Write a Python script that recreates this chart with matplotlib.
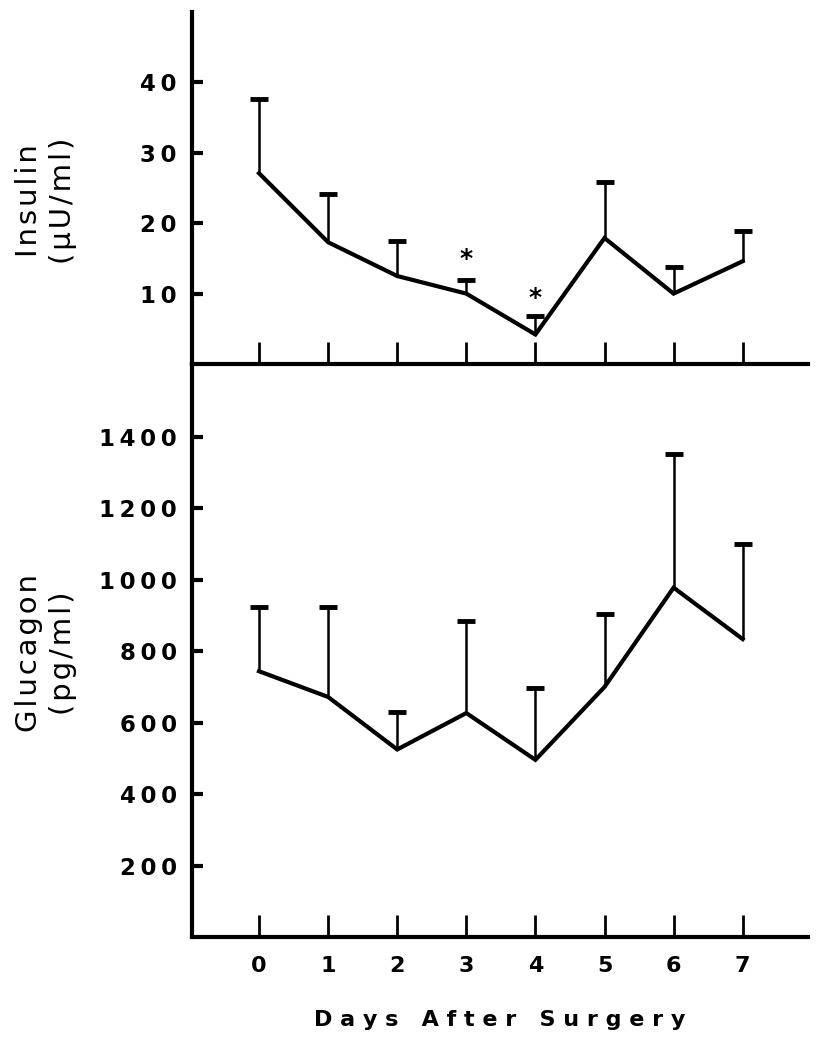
import matplotlib.pyplot as plt
from matplotlib.ticker import FuncFormatter
import numpy as np

days = [0, 1, 2, 3, 4, 5, 6, 7]
insulin_mean = [27.1, 17.3, 12.5, 10.0, 4.2, 17.9, 10.0, 14.6]
insulin_upper = [37.7, 24.1, 17.5, 12.0, 6.8, 25.8, 13.8, 18.9]
insulin_star_days = [3, 4]
insulin_star_y = [14.9, 9.4]
glucagon_mean = [744, 672, 525, 627, 496, 700, 978, 834]
glucagon_upper = [925, 925, 630, 884, 697, 904, 1353, 1101]

insulin_ticks = [10, 20, 30, 40]
glucagon_ticks = [200, 400, 600, 800, 1000, 1200, 1400]

plt.rcParams['font.family'] = 'DejaVu Sans'

HS = '\u200a'  # hair space
TS = '\u2009'  # thin space


def spread(s, sep=HS):
    return sep.join(s)


fig = plt.figure(figsize=(8.24, 10.5), dpi=100)
ax1 = fig.add_axes([0.233, 0.6533, 0.748, 0.3353])
ax2 = fig.add_axes([0.233, 0.1076, 0.748, 0.5457])

# the original digits are set wide, so put thin spaces between them
spaced = FuncFormatter(lambda v, p: spread('%d' % v, TS))


def draw(ax, mean, upper):
    ax.plot(days, mean, color='black', lw=3, solid_joinstyle='miter', zorder=3)
    ax.vlines(days, mean, upper, color='black', lw=1.8, zorder=2)
    ax.plot(days, upper, ls='none', marker='_', ms=13, mew=3.5, color='black')
    ax.set_xlim(-0.97, 7.95)
    for s in ['top', 'right']:
        ax.spines[s].set_visible(False)
    for s in ['left', 'bottom']:
        ax.spines[s].set_linewidth(3)
    ax.set_xticks(days)
    ax.tick_params(axis='x', direction='in', length=16, width=2, pad=14,
                   labelsize=16)
    ax.tick_params(axis='y', direction='in', length=8, width=3, pad=11,
                   labelsize=16.5)
    ax.yaxis.set_major_formatter(spaced)
    ax.patch.set_alpha(0)


draw(ax1, insulin_mean, insulin_upper)
ax1.set_ylim(0, 50)
ax1.set_yticks(insulin_ticks)
ax1.tick_params(axis='x', labelbottom=False)
for d, y in zip(insulin_star_days, insulin_star_y):
    ax1.text(d, y, '*', ha='center', va='center', fontsize=18, fontweight='bold')

draw(ax2, glucagon_mean, glucagon_upper)
ax2.set_ylim(0, 1604)
ax2.set_yticks(glucagon_ticks)

for ax in (ax1, ax2):
    for lab in ax.get_yticklabels() + ax.get_xticklabels():
        lab.set_fontweight('bold')

fig.text(0.056, 0.8086, spread('Insulin') + '\n' + spread('(\u00b5U/ml)'),
         rotation=90, ha='center', va='center', fontsize=21, linespacing=1.3)
fig.text(0.056, 0.378, spread('Glucagon') + '\n' + spread('(pg/ml)'),
         rotation=90, ha='center', va='center', fontsize=21, linespacing=1.3)
fig.text(0.607, 0.029, 'D a y s   A f t e r   S u r g e r y', ha='center',
         va='center', fontsize=16, fontweight='bold')

fig.savefig('out.png', dpi=100)
